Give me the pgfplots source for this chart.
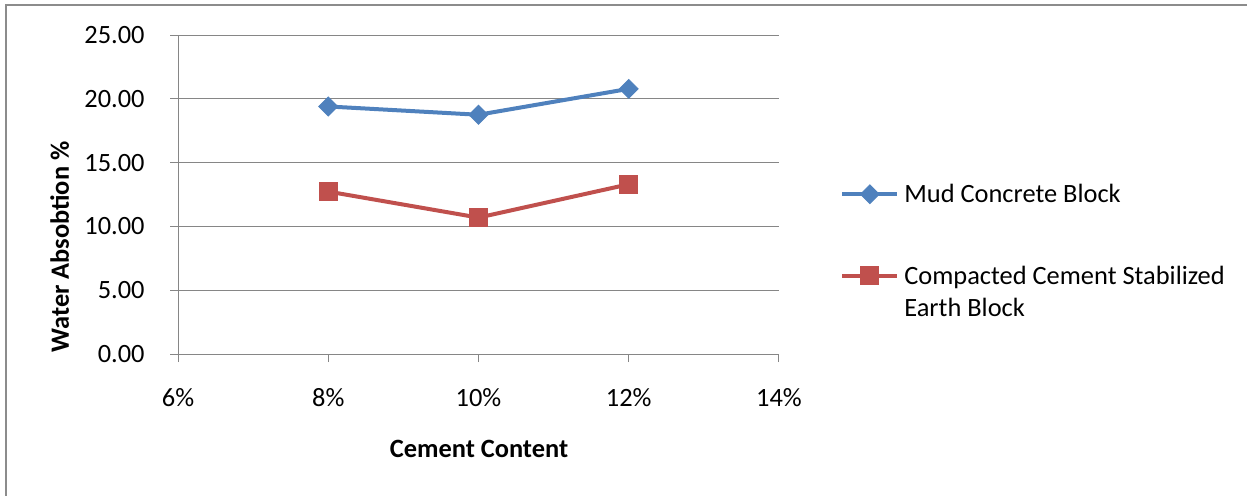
\documentclass[border=0pt]{standalone}
\usepackage{fontspec}
\setmainfont{Carlito}
\usepackage{pgfplots}
\pgfplotsset{compat=1.18}
\definecolor{mudblue}{HTML}{4F81BD}
\definecolor{ccsred}{HTML}{C0504D}
\definecolor{gridgray}{HTML}{868686}
\definecolor{framegray}{HTML}{8C8C8C}

\begin{document}
\begin{tikzpicture}[x=0.5pt,y=0.5pt]
\useasboundingbox (0,0) rectangle (1247,495);
\draw[framegray, line width=1pt] (6,-10) -- (6,490) -- (1260,490);

\begin{axis}[
  at={(89pt,70.5pt)}, anchor=south west,
  scale only axis, width=300.5pt, height=159.5pt,
  xmin=6, xmax=14, ymin=0, ymax=25,
  xtick={6,8,10,12,14}, ytick={0,5,...,25},
  xticklabel={\pgfmathprintnumber{\tick}\%},
  axis x line=bottom, axis y line=left,
  axis line style={-, gridgray, line width=0.5pt},
  ymajorgrids, grid style={gridgray, line width=0.5pt},
  tick align=outside, major tick length=4pt,
  tick style={gridgray, line width=0.5pt},
  ticklabel style={font=\fontsize{13.2}{16}\selectfont, inner sep=0pt},
  yticklabel style={anchor=east, xshift=-12.5pt, /pgf/number format/.cd, fixed,
    fixed zerofill, precision=2, assume math mode=true},
  xticklabel style={anchor=north, yshift=-13pt,
    /pgf/number format/.cd, assume math mode=true},
  legend cell align=left,
  legend style={at={(1.1015,0.533)}, anchor=north west, draw=none, fill=none,
    inner sep=0pt, column sep=2.5pt, row sep=30pt,
    nodes={inner sep=0pt, align=left, anchor=base west,
      font=\fontsize{13.2}{16}\selectfont}},
  legend image code/.code={\draw[mark repeat=2, mark phase=2, #1]
    plot coordinates {(0pt,4.25pt) (13.75pt,4.25pt) (27.5pt,4.25pt)};},
]
\addplot[mudblue, line width=2pt, mark=square*,
  mark options={rotate=45, solid, line width=0.5pt}, mark size=3.3pt]
  coordinates {(8,19.40) (10,18.75) (12,20.78)};
\addlegendentry{Mud Concrete Block}
\addplot[ccsred, line width=2pt, mark=square*,
  mark options={solid, line width=0.5pt}, mark size=4.5pt,
  legend image post style={yshift=16pt}]
  coordinates {(8,12.73) (10,10.69) (12,13.30)};
\addlegendentry{Compacted Cement Stabilized\\Earth Block}
\end{axis}

\node[rotate=90, anchor=base, font=\fontsize{13.2}{16}\selectfont\bfseries]
  at (69,248) {Water Absobtion \%};
\node[anchor=base, font=\fontsize{13.2}{16}\selectfont\bfseries]
  at (479,38) {Cement Content};
\end{tikzpicture}
\end{document}
